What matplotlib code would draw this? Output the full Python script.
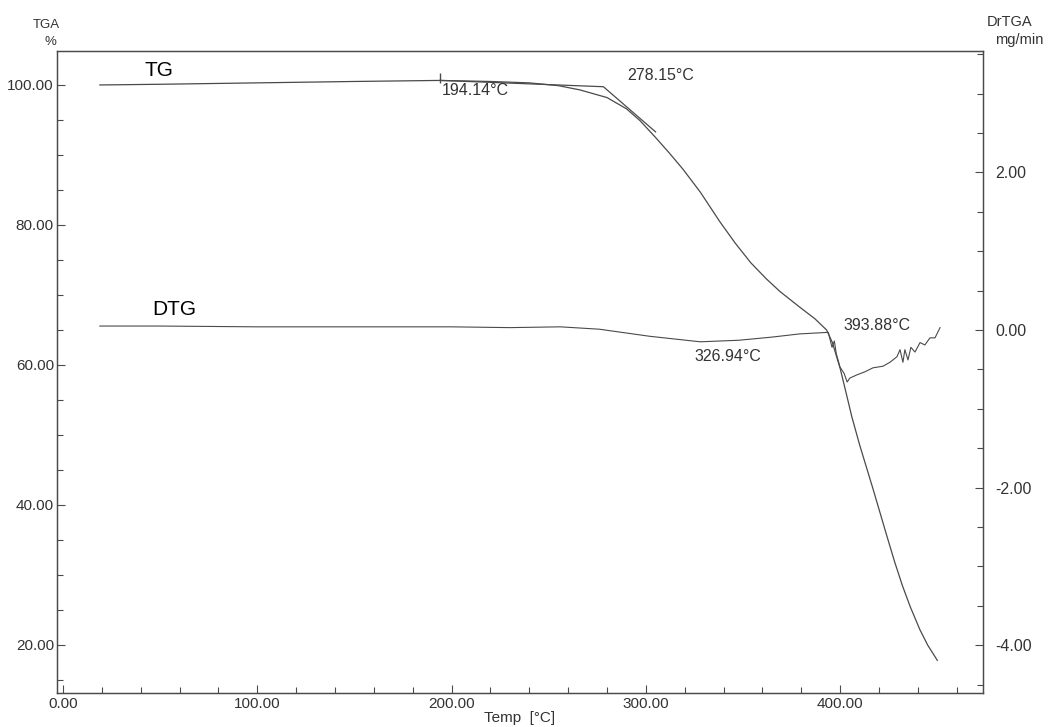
import matplotlib.pyplot as plt
from matplotlib.ticker import MultipleLocator, FormatStrFormatter

# TG curve: temperature [C] vs residual mass [%]
tg_temp = [19, 50, 100, 150, 194, 220, 240, 255, 266, 280, 290, 297, 305, 312,
           319, 328, 338, 346, 354, 362, 369, 379, 387, 393, 396, 400, 403.5,
           406, 410, 417, 424, 428, 432, 436, 441, 445, 450]
tg_mass = [100.0, 100.1, 100.3, 100.5, 100.65, 100.5, 100.3, 99.9, 99.3, 98.2,
           96.6, 94.9, 92.5, 90.3, 88.0, 84.7, 80.5, 77.4, 74.6, 72.3, 70.5,
           68.3, 66.6, 65.0, 63.2, 59.5, 55.5, 52.6, 48.6, 42.2, 35.6, 31.9,
           28.5, 25.5, 22.2, 20.0, 17.8]

# DTG curve: temperature [C] vs mass rate [mg/min]
dtg_temp = [19, 50, 100, 150, 200, 230, 256, 276, 302, 328, 348, 365, 379,
            393.9, 395.8, 397.0, 398.0, 399.9, 402.0, 403.6, 405.0, 408.6,
            412.8, 416.9, 422.0, 425.6, 429.2, 430.8, 432.3, 433.3, 434.9,
            436.4, 438.5, 441.1, 443.6, 446.2, 448.8, 451.4]
dtg_rate = [0.05, 0.05, 0.04, 0.04, 0.04, 0.03, 0.04, 0.01, -0.08, -0.15,
            -0.13, -0.09, -0.05, -0.03, -0.22, -0.14, -0.30, -0.47, -0.55,
            -0.66, -0.61, -0.57, -0.53, -0.48, -0.46, -0.41, -0.34, -0.25,
            -0.41, -0.25, -0.38, -0.22, -0.28, -0.16, -0.19, -0.10, -0.10,
            0.03]

# onset analysis on the TG step
onset_start = (194.14, 100.65)
onset_point = (278.15, 99.75)
tangent_end = (305.0, 93.3)

fig = plt.figure(figsize=(10.52, 7.27), dpi=100)
ax = fig.add_axes([0.0539, 0.0468, 0.8805, 0.8835])
ax2 = ax.twinx()

line_col = '#4a4a4a'
text_col = '#333333'
font = 'Liberation Sans'

ax.plot(tg_temp, tg_mass, color=line_col, lw=0.9)
ax.plot([onset_start[0], onset_point[0], tangent_end[0]],
        [onset_start[1], onset_point[1], tangent_end[1]], color=line_col, lw=0.9)
ax.plot([onset_start[0]], [onset_start[1] + 0.4], marker='|', ms=7, color=line_col)
ax2.plot(dtg_temp, dtg_rate, color=line_col, lw=0.8)

ax.set_xlim(-3.2, 473.5)
ax.set_ylim(13.14, 104.9)
ax2.set_ylim(-4.607, 3.545)

ax.xaxis.set_major_locator(MultipleLocator(100))
ax.xaxis.set_minor_locator(MultipleLocator(20))
ax.yaxis.set_major_locator(MultipleLocator(20))
ax.yaxis.set_minor_locator(MultipleLocator(5))
ax2.yaxis.set_major_locator(MultipleLocator(2))
ax2.yaxis.set_minor_locator(MultipleLocator(0.5))
for a in (ax.xaxis, ax.yaxis, ax2.yaxis):
    a.set_major_formatter(FormatStrFormatter('%.2f'))

ax.tick_params(axis='x', which='both', direction='in', top=False, pad=3,
               colors=line_col, labelcolor=text_col, labelsize=11)
ax.tick_params(axis='y', which='both', direction='in', right=False, pad=2,
               colors=line_col, labelcolor=text_col, labelsize=11)
ax2.tick_params(axis='y', which='both', direction='in', pad=9,
                colors=line_col, labelcolor=text_col, labelsize=11.5)
for a in (ax, ax2):
    a.tick_params(which='major', length=6, width=0.8)
    a.tick_params(which='minor', length=4, width=0.8)
    for s in a.spines.values():
        s.set_color(line_col)
        s.set_linewidth(0.9)
for lab in ax.get_xticklabels() + ax.get_yticklabels() + ax2.get_yticklabels():
    lab.set_family(font)

# curve names and temperature annotations
ax.text(42.2, 102.1, 'TG', fontsize=15, family=font, color='black', va='center')
ax.text(45.8, 67.9, 'DTG', fontsize=15, family=font, color='black', va='center')
ax.text(195.0, 99.2, '194.14°C', fontsize=11.5, family=font, color=text_col, va='center')
ax.text(290.3, 101.3, '278.15°C', fontsize=11.5, family=font, color=text_col, va='center')
ax.text(325.2, 61.2, '326.94°C', fontsize=11.5, family=font, color=text_col, va='center')
ax.text(401.5, 65.7, '393.88°C', fontsize=11.5, family=font, color=text_col, va='center')

# axis titles
fig.text(46 / 1052, 1 - 25 / 727, 'TGA', fontsize=9.5, family=font, color=text_col,
         ha='center', va='center')
fig.text(50 / 1052, 1 - 42 / 727, '%', fontsize=9.5, family=font, color=text_col,
         ha='center', va='center')
fig.text(1010 / 1052, 1 - 22 / 727, 'DrTGA', fontsize=10.5, family=font, color=text_col,
         ha='center', va='center')
fig.text(1019 / 1052, 1 - 40 / 727, 'mg/min', fontsize=10.5, family=font, color=text_col,
         ha='center', va='center')
fig.text(520 / 1052, 1 - 718 / 727, 'Temp  [°C]', fontsize=11, family=font,
         color=text_col, ha='center', va='center')

fig.savefig('out.png', dpi=100)
